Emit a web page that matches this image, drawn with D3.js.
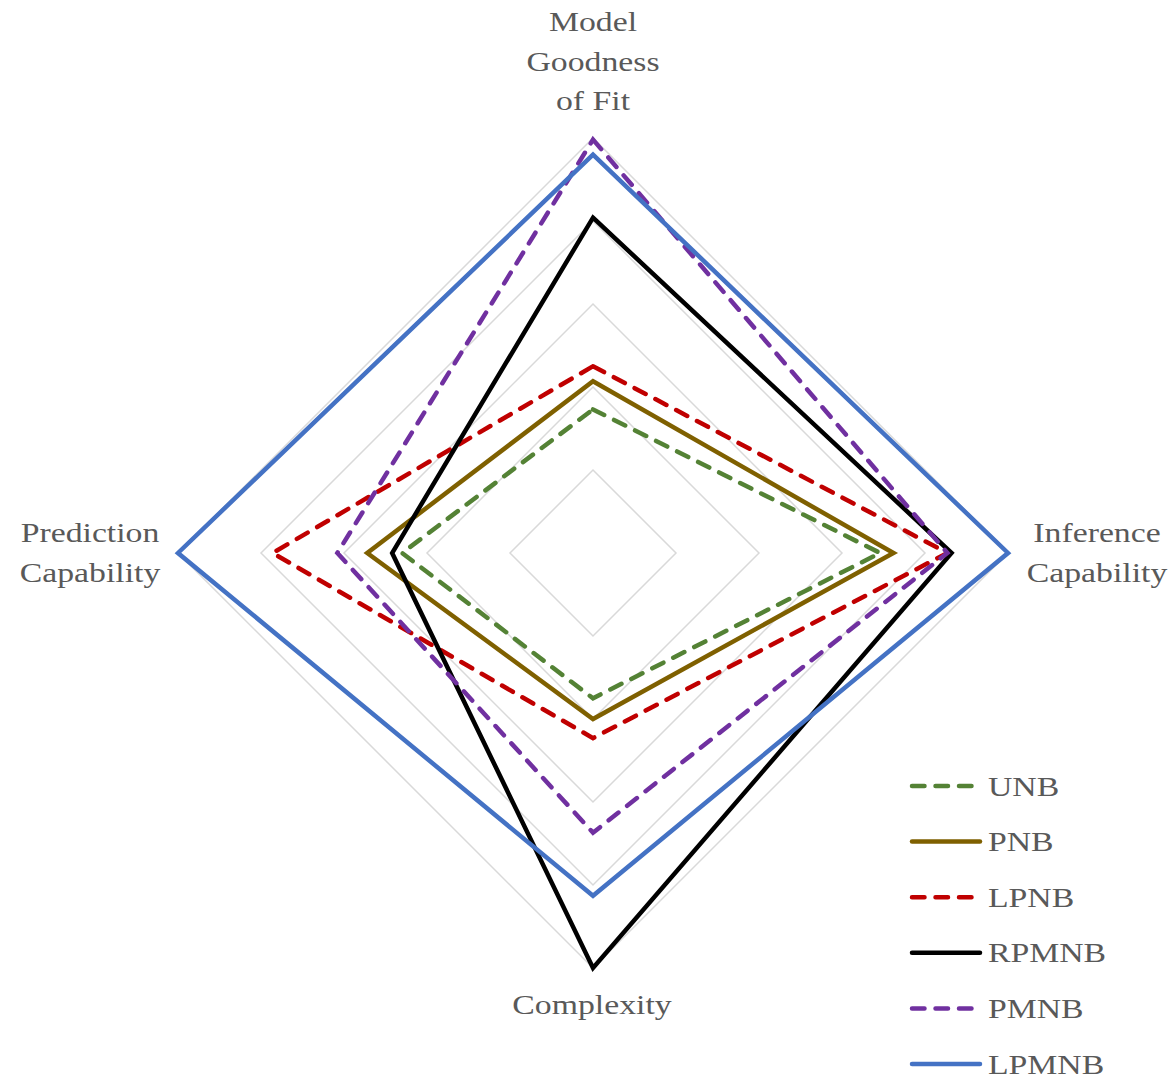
<!DOCTYPE html>
<html>
<head>
<meta charset="utf-8">
<script src="https://cdn.jsdelivr.net/npm/d3@7"></script>
<style>
  html, body { margin: 0; padding: 0; background: #fff; }
  svg { display: block; }
</style>
</head>
<body>
<svg id="chart" width="1173" height="1082"></svg>
<script>
// ---- data ----
const axes = ["Model Goodness of Fit", "Inference Capability", "Complexity", "Prediction Capability"];
const axisLabelLines = [["Model", "Goodness", "of Fit"], ["Inference", "Capability"], ["Complexity"], ["Prediction", "Capability"]];
const seriesNames = ["UNB", "PNB", "LPNB", "RPMNB", "PMNB", "LPMNB"];
const UNB   = [1.73, 3.46, 1.75, 2.30];
const PNB   = [2.07, 3.62, 2.00, 2.72];
const LPNB  = [2.25, 4.27, 2.23, 3.86];
const RPMNB = [4.04, 4.32, 5.00, 2.42];
const PMNB  = [4.98, 4.27, 3.37, 3.08];
const LPMNB = [4.80, 5.00, 4.13, 5.00];
const gridLevels = [1, 2, 3, 4, 5];

// ---- styles ----
const seriesValues = [UNB, PNB, LPNB, RPMNB, PMNB, LPMNB];
const colors = ["#548235", "#7f6000", "#c00000", "#000000", "#7030a0", "#4472c4"];
const dashed = [true, false, true, false, true, false];

const svg = d3.select("#chart");
const cx = 593, cy = 553;
const r = d3.scaleLinear().domain([0, 5]).range([0, 415]);
const angle = d3.scaleLinear().domain([0, axes.length]).range([0, 2 * Math.PI]);

function pt(i, v) {
  const a = angle(i) - Math.PI / 2;
  return [cx + r(v) * Math.cos(a), cy + r(v) * Math.sin(a)];
}

const line = d3.line().curve(d3.curveLinearClosed);

// grid
svg.append("g").selectAll("path").data(gridLevels).join("path")
  .attr("d", lv => line(axes.map((_, i) => pt(i, lv))))
  .attr("fill", "none")
  .attr("stroke", "#d9d9d9")
  .attr("stroke-width", 1.5);

// series
svg.append("g").selectAll("path").data(seriesValues).join("path")
  .attr("d", vals => line(vals.map((v, i) => pt(i, v))))
  .attr("fill", "none")
  .attr("stroke", (d, i) => colors[i])
  .attr("stroke-width", 4.5)
  .attr("stroke-linejoin", "miter")
  .attr("stroke-linecap", (d, i) => dashed[i] ? "round" : "butt")
  .attr("stroke-dasharray", (d, i) => dashed[i] ? "12.5,11" : null);

// axis labels
const font = "'Liberation Serif', 'Times New Roman', serif";
const sx = 1.25;
function addText(x, y, txt, anchor) {
  svg.append("text")
    .attr("transform", `translate(${x},${y}) scale(${sx},1)`)
    .attr("text-anchor", anchor)
    .attr("font-family", font)
    .attr("font-size", 27)
    .attr("fill", "#595959")
    .text(txt);
}
const R = r(5);
// top
axisLabelLines[0].forEach((t, k, arr) => addText(cx, cy - R - 28 - (arr.length - 1 - k) * 39.5, t, "middle"));
// right
axisLabelLines[1].forEach((t, k) => addText(cx + R + 89, cy - 11 + k * 40, t, "middle"));
// bottom
axisLabelLines[2].forEach((t, k) => addText(cx - 1, cy + R + 46 + k * 40, t, "middle"));
// left
axisLabelLines[3].forEach((t, k) => addText(cx - R - 88, cy - 11 + k * 40, t, "middle"));

// legend
const lg = svg.append("g");
seriesNames.forEach((name, i) => {
  const y = 786 + i * 55.6;
  lg.append("line")
    .attr("x1", 912).attr("x2", dashed[i] ? 975 : 980)
    .attr("y1", y).attr("y2", y)
    .attr("stroke", colors[i])
    .attr("stroke-width", 4.5)
    .attr("stroke-linecap", "round")
    .attr("stroke-dasharray", dashed[i] ? "12.5,11" : null);
  lg.append("text")
    .attr("transform", `translate(988,${y + 9.5}) scale(${sx},1)`)
    .attr("font-family", font)
    .attr("font-size", 27)
    .attr("fill", "#595959")
    .text(name);
});
</script>
</body>
</html>
